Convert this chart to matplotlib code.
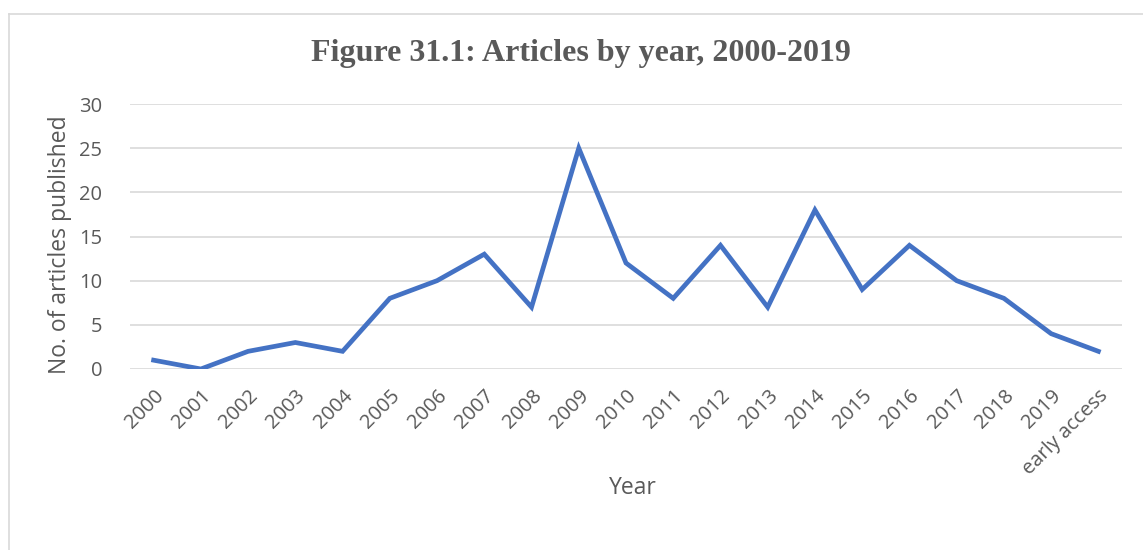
import matplotlib
matplotlib.use("Agg")
import matplotlib.pyplot as plt
from matplotlib.lines import Line2D

# articles per year
years = ["2000", "2001", "2002", "2003", "2004", "2005", "2006", "2007",
         "2008", "2009", "2010", "2011", "2012", "2013", "2014", "2015",
         "2016", "2017", "2018", "2019", "early access"]
articles = [1, 0, 2, 3, 2, 8, 10, 13, 7, 25, 12, 8, 14, 7, 18, 9, 14, 10, 8, 4, 2]
y_ticks = [0, 5, 10, 15, 20, 25, 30]

TXT = "#595959"
GRID = "#d9d9d9"
BLUE = "#4472C4"
SANS = ["Open Sans", "DejaVu Sans"]

fig = plt.figure(figsize=(11.43, 5.5), dpi=100)
ax = fig.add_axes([130 / 1143, 1 - 369 / 550, 992 / 1143, 265 / 550])

x = list(range(len(years)))
ax.plot(x, articles, color=BLUE, lw=3.4, solid_joinstyle="miter", zorder=3)

ax.set_xlim(-0.5, len(years) - 0.5)
ax.set_ylim(0, 30)
ax.set_yticks(y_ticks)
ax.set_yticklabels([str(v) for v in y_ticks], family=SANS, fontsize=14.5, color=TXT)
ax.set_xticks(x)
ax.set_xticklabels(years, rotation=45, ha="right", rotation_mode="anchor",
                   family=SANS, fontsize=14.5, color=TXT)
ax.tick_params(axis="y", length=0, pad=20)
ax.tick_params(axis="x", length=0, pad=12)
ax.grid(axis="y", color=GRID, lw=1.2)
ax.set_axisbelow(True)
for s in ["top", "right", "left", "bottom"]:
    ax.spines[s].set_visible(False)

ax.set_ylabel("No. of articles published", family=SANS, fontsize=16.5, color=TXT,
              va="center")
ax.yaxis.set_label_coords(-70 / 992, 0.47)
fig.text(633 / 1143, 1 - 488 / 550, "Year", family=SANS, fontsize=16.5, color=TXT,
         ha="center", va="center")
fig.text(581 / 1143, 1 - 53 / 550, "Figure 31.1: Articles by year, 2000-2019",
         family=["Liberation Serif", "DejaVu Serif"], fontweight="bold",
         fontsize=23, color=TXT, ha="center", va="center")

# chart frame
fy = 1 - 14 / 550
fx = 8.5 / 1143
fig.add_artist(Line2D([fx, 1], [fy, fy], color=GRID, lw=1.2, transform=fig.transFigure))
fig.add_artist(Line2D([fx, fx], [0, fy], color=GRID, lw=1.2, transform=fig.transFigure))

fig.savefig("out.png", dpi=100)
